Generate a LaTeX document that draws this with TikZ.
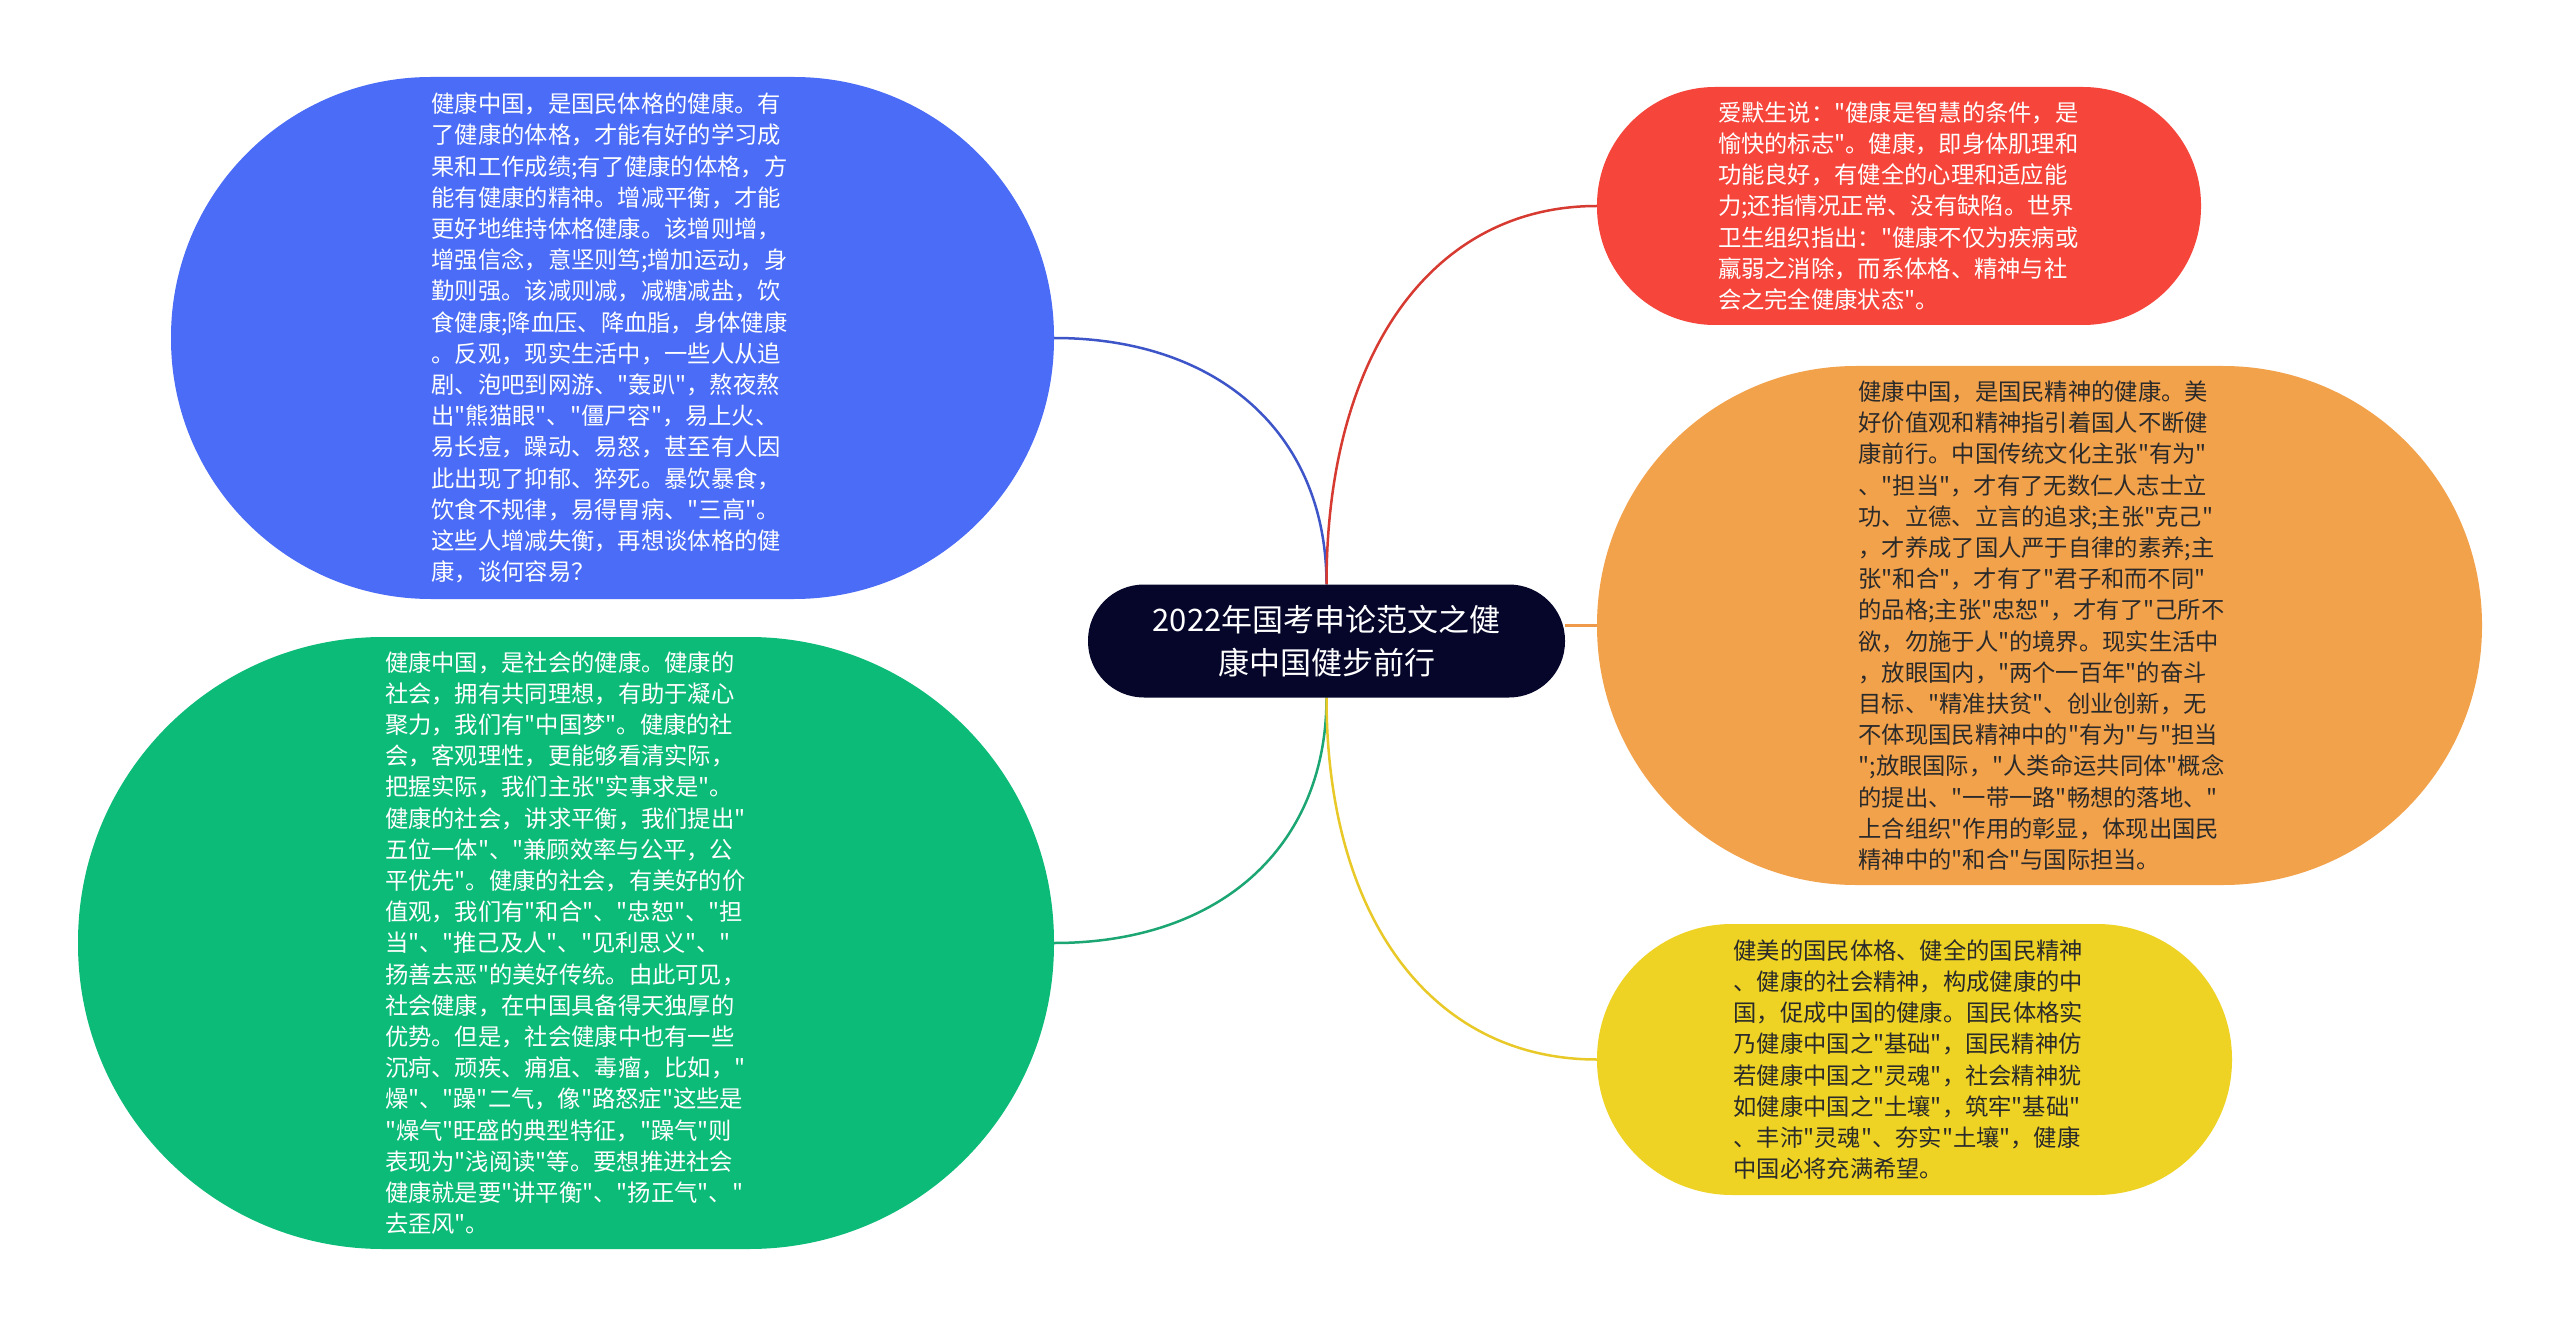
\documentclass[tikz,border=0pt]{standalone}
\usepackage{fontspec}
\newfontfamily\cjk{Noto Sans CJK SC}
\usetikzlibrary{backgrounds}
\definecolor{bluefill}{HTML}{4A6CF6}
\definecolor{greenfill}{HTML}{0CBB78}
\definecolor{redfill}{HTML}{F6463C}
\definecolor{orangefill}{HTML}{F3A24C}
\definecolor{yellowfill}{HTML}{EFD324}
\definecolor{rootfill}{HTML}{05062A}
\definecolor{blueline}{HTML}{3D55C8}
\definecolor{greenline}{HTML}{1BA673}
\definecolor{redline}{HTML}{D63A30}
\definecolor{orangeline}{HTML}{EE9A4A}
\definecolor{yellowline}{HTML}{E8C928}
\definecolor{darktext}{HTML}{2A2A2A}
\newcommand\mybodyfont{\cjk\fontsize{23.3pt}{31.2pt}\selectfont}
\newcommand\mytitlefont{\cjk\fontsize{31pt}{43pt}\selectfont}
\tikzset{
  topic/.style={rectangle, inner sep=0pt, align=left, text width=362pt, font=\mybodyfont},
  rootbox/.style={rectangle, inner sep=0pt, align=center, font=\mytitlefont, fill=rootfill, text=white,
    minimum width=477pt, minimum height=113pt, rounded corners=56pt},
  link/.style={line width=2.5pt}
}
\begin{document}
\begin{tikzpicture}[x=1pt,y=-1pt]
\useasboundingbox (0,0) rectangle (2560,1329);
\begin{scope}[on background layer]
\fill[white] (0,0) rectangle (2560,1329);
\end{scope}

\node[rootbox] (root) at (1326.5,641) {2022年国考申论范文之健\\康中国健步前行};

\node[topic, fill=bluefill, text=white, minimum width=883pt, minimum height=522pt, rounded corners=260pt]
  (blue) at (612.5,338) {健康中国，是国民体格的健康。有\\了健康的体格，才能有好的学习成\\果和工作成绩;有了健康的体格，方\\能有健康的精神。增减平衡，才能\\更好地维持体格健康。该增则增，\\增强信念，意坚则笃;增加运动，身\\勤则强。该减则减，减糖减盐，饮\\食健康;降血压、降血脂，身体健康\\。反观，现实生活中，一些人从追\\剧、泡吧到网游、"轰趴"，熬夜熬\\出"熊猫眼"、"僵尸容"，易上火、\\易长痘，躁动、易怒，甚至有人因\\此出现了抑郁、猝死。暴饮暴食，\\饮食不规律，易得胃病、"三高"。\\这些人增减失衡，再想谈体格的健\\康，谈何容易？};

\node[topic, fill=greenfill, text=white, minimum width=976pt, minimum height=612pt, rounded corners=305pt]
  (green) at (566,943) {健康中国，是社会的健康。健康的\\社会，拥有共同理想，有助于凝心\\聚力，我们有"中国梦"。健康的社\\会，客观理性，更能够看清实际，\\把握实际，我们主张"实事求是"。\\健康的社会，讲求平衡，我们提出"\\五位一体"、"兼顾效率与公平，公\\平优先"。健康的社会，有美好的价\\值观，我们有"和合"、"忠恕"、"担\\当"、"推己及人"、"见利思义"、"\\扬善去恶"的美好传统。由此可见，\\社会健康，在中国具备得天独厚的\\优势。但是，社会健康中也有一些\\沉疴、顽疾、痈疽、毒瘤，比如，"\\燥"、"躁"二气，像"路怒症"这些是\\"燥气"旺盛的典型特征，"躁气"则\\表现为"浅阅读"等。要想推进社会\\健康就是要"讲平衡"、"扬正气"、"\\去歪风"。};

\node[topic, fill=redfill, text=white, minimum width=604pt, minimum height=238pt, rounded corners=118pt]
  (red) at (1899,206) {爱默生说："健康是智慧的条件，是\\愉快的标志"。健康，即身体肌理和\\功能良好，有健全的心理和适应能\\力;还指情况正常、没有缺陷。世界\\卫生组织指出："健康不仅为疾病或\\羸弱之消除，而系体格、精神与社\\会之完全健康状态"。};

\node[topic, fill=orangefill, text=darktext, minimum width=885pt, minimum height=519pt, rounded corners=259pt]
  (orange) at (2039.5,625.5) {健康中国，是国民精神的健康。美\\好价值观和精神指引着国人不断健\\康前行。中国传统文化主张"有为"\\、"担当"，才有了无数仁人志士立\\功、立德、立言的追求;主张"克己"\\，才养成了国人严于自律的素养;主\\张"和合"，才有了"君子和而不同"\\的品格;主张"忠恕"，才有了"己所不\\欲，勿施于人"的境界。现实生活中\\，放眼国内，"两个一百年"的奋斗\\目标、"精准扶贫"、创业创新，无\\不体现国民精神中的"有为"与"担当\\";放眼国际，"人类命运共同体"概念\\的提出、"一带一路"畅想的落地、"\\上合组织"作用的彰显，体现出国民\\精神中的"和合"与国际担当。};

\node[topic, fill=yellowfill, text=darktext, minimum width=635pt, minimum height=271pt, rounded corners=135pt]
  (yellow) at (1914.5,1059.5) {健美的国民体格、健全的国民精神\\、健康的社会精神，构成健康的中\\国，促成中国的健康。国民体格实\\乃健康中国之"基础"，国民精神仿\\若健康中国之"灵魂"，社会精神犹\\如健康中国之"土壤"，筑牢"基础"\\、丰沛"灵魂"、夯实"土壤"，健康\\中国必将充满希望。};

\begin{scope}[on background layer]
\draw[link, blueline] (root.north) .. controls +(0,-150) and +(165,0) .. (blue.east);
\draw[link, redline] (root.north) .. controls +(0,-230) and +(-165,0) .. (red.west);
\draw[link, greenline] (root.south) .. controls +(0,150) and +(165,0) .. (green.east);
\draw[link, yellowline] (root.south) .. controls +(0,220) and +(-165,0) .. (yellow.west);
\draw[link, orangeline] (orange.west) -- (orange.west -| root.east);
\end{scope}
\end{tikzpicture}
\end{document}
